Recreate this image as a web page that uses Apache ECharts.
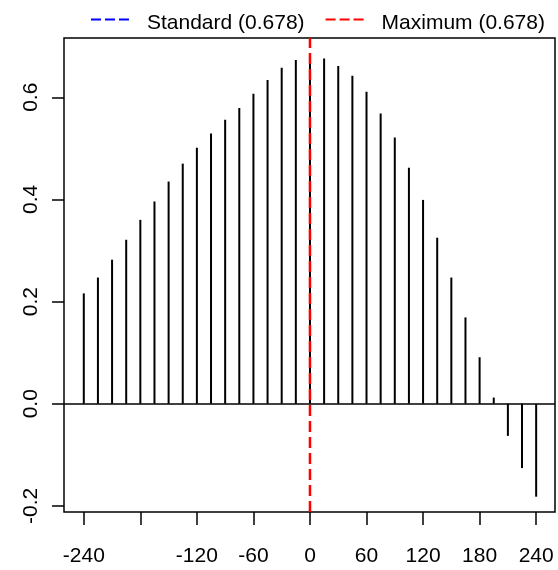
<!DOCTYPE html>
<html>
<head>
<meta charset="utf-8">
<script src="https://cdn.jsdelivr.net/npm/echarts@6/dist/echarts.min.js"></script>
<style>
  html, body { margin: 0; padding: 0; background: #fff; }
  #chart { width: 558px; height: 570px; }
</style>
</head>
<body>
<div id="chart"></div>
<script>
// lags and cross-correlation values
const lags = [-240, -225, -210, -195, -180, -165, -150, -135, -120, -105, -90, -75, -60, -45, -30, -15,
  0, 15, 30, 45, 60, 75, 90, 105, 120, 135, 150, 165, 180, 195, 210, 225, 240]
const ccf = [0.216, 0.247, 0.282, 0.321, 0.360, 0.396, 0.435, 0.470, 0.501, 0.529, 0.556, 0.579, 0.607, 0.634, 0.658, 0.673,
  0.678, 0.676, 0.661, 0.642, 0.611, 0.568, 0.521, 0.462, 0.399, 0.325, 0.247, 0.169, 0.091, 0.012, -0.063, -0.126, -0.182]
const xTicks = [-240, -180, -120, -60, 0, 60, 120, 180, 240]
const xLabels = [-240, -120, -60, 0, 60, 120, 180, 240]
const yTicks = [-0.2, 0, 0.2, 0.4, 0.6]
const xRange = [-261, 260]
const yRange = [-0.212, 0.716]
const standardLag = 0
const maximumLag = 0
const standardName = 'Standard (0.678)'
const maximumName = 'Maximum (0.678)'

const font = 'Liberation Sans, Arial, sans-serif'
// three dashes, then a near invisible dot so the text sits further right
const dashIcon = 'path://M0,0h10v2h-10z M14,0h10v2h-10z M28,0h10v2h-10z M51,10h0.01v0.01h-0.01z'

const chart = echarts.init(document.getElementById('chart'))

const option = {
  animation: false,
  backgroundColor: '#fff',
  textStyle: { fontFamily: font },
  legend: {
    top: 8,
    left: 86,
    itemWidth: 51,
    itemHeight: 10,
    itemGap: 21,
    textStyle: { fontFamily: font, fontSize: 21, color: '#000' },
    data: [
      { name: standardName, icon: dashIcon },
      { name: maximumName, icon: dashIcon }
    ]
  },
  grid: {
    left: 64, right: 3, top: 38, bottom: 58,
    show: true, borderColor: '#000', borderWidth: 1.5, backgroundColor: '#fff'
  },
  xAxis: {
    type: 'value',
    min: xRange[0], max: xRange[1],
    axisLine: { show: false, onZero: false },
    splitLine: { show: false },
    axisTick: { show: true, length: 13, customValues: xTicks, lineStyle: { color: '#000', width: 1.5 } },
    axisLabel: { customValues: xLabels, margin: 34, fontSize: 21, color: '#000', fontFamily: font }
  },
  yAxis: {
    type: 'value',
    min: yRange[0], max: yRange[1],
    axisLine: { show: false, onZero: false },
    splitLine: { show: false },
    axisTick: { show: true, length: 12, customValues: yTicks, lineStyle: { color: '#000', width: 1.5 } },
    axisLabel: {
      customValues: yTicks, rotate: 90, margin: 22, fontSize: 21, color: '#000', fontFamily: font,
      formatter: v => v.toFixed(1)
    }
  },
  series: [
    {
      name: 'ccf',
      type: 'custom',
      data: lags.map((l, i) => [l, ccf[i]]),
      renderItem: (params, api) => {
        const p0 = api.coord([api.value(0), 0])
        const p1 = api.coord([api.value(0), api.value(1)])
        return {
          type: 'line',
          shape: { x1: p0[0], y1: p0[1], x2: p1[0], y2: p1[1] },
          style: { stroke: '#000', lineWidth: 2 }
        }
      },
      markLine: {
        silent: true,
        symbol: 'none',
        label: { show: false },
        lineStyle: { color: '#000', width: 1.5, type: 'solid' },
        data: [{ yAxis: 0 }]
      },
      z: 2
    },
    {
      name: standardName,
      type: 'line',
      data: [[standardLag, yRange[0]], [standardLag, yRange[1]]],
      symbol: 'none',
      itemStyle: { color: '#0000ff' },
      lineStyle: { color: '#0000ff', width: 1.5, type: [11, 5] },
      z: 3
    },
    {
      name: maximumName,
      type: 'line',
      data: [[maximumLag, yRange[0]], [maximumLag, yRange[1]]],
      symbol: 'none',
      itemStyle: { color: '#ff0000' },
      lineStyle: { color: '#ff0000', width: 2.5, type: [11, 5] },
      z: 4
    }
  ]
}

chart.setOption(option)
</script>
</body>
</html>
